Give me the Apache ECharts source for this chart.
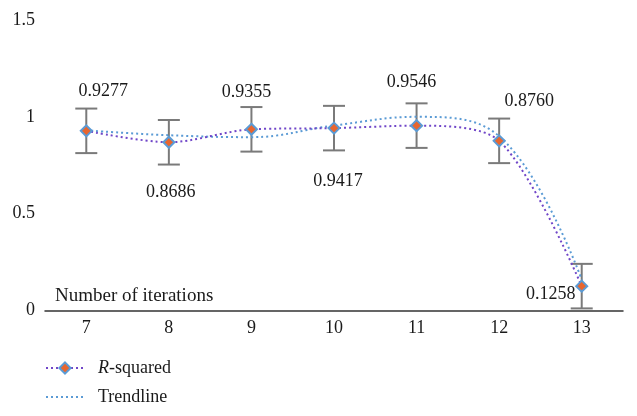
<!DOCTYPE html>
<html><head><meta charset="utf-8">
<script src="https://cdn.jsdelivr.net/npm/echarts@6/dist/echarts.min.js"></script>
<style>html,body{margin:0;padding:0;background:#fff}#c{width:637px;height:416px}</style>
</head><body><div id="c"></div>
<script>
// Data
const categories = ['7', '8', '9', '10', '11', '12', '13'];
const rSquared = [0.9277, 0.8686, 0.9355, 0.9417, 0.9546, 0.8760, 0.1258];
const errorMargin = [0.115, 0.115, 0.115, 0.115, 0.115, 0.115, 0.115];
const trendline = [0.93, 0.905, 0.895, 0.955, 1.0, 0.90, 0.16];
const yTicks = ['0', '0.5', '1', '1.5'];

// Label placement (layout only)
const labelOffsets = [[17, -40], [2, 50], [-5, -37], [4, 53], [-5, -43], [30, -40], [-31, 8]];

const FONT = '"Liberation Serif", "DejaVu Serif", serif';
const chart = echarts.init(document.getElementById('c'), null, {renderer: 'canvas'});

const errData = categories.map((c, i) => [i, rSquared[i] - errorMargin[i], rSquared[i] + errorMargin[i]]);
const rData = rSquared.map((v, i) => ({
  value: v,
  label: {show: true, position: 'inside', offset: labelOffsets[i], formatter: v.toFixed(4)}
}));

chart.setOption({
  animation: false,
  backgroundColor: '#fff',
  grid: {left: 45, right: 14, top: 20, bottom: 105.5, containLabel: false},
  xAxis: {
    type: 'category',
    data: categories,
    boundaryGap: true,
    axisLine: {show: true, lineStyle: {color: '#333', width: 1.5}},
    axisTick: {show: false},
    axisLabel: {color: '#1a1a1a', fontFamily: FONT, fontSize: 18, margin: 9},
    splitLine: {show: false}
  },
  yAxis: {
    type: 'value',
    min: 0, max: 1.5, interval: 0.5,
    axisLine: {show: false},
    axisTick: {show: false},
    splitLine: {show: false},
    axisLabel: {
      color: '#1a1a1a', fontFamily: FONT, fontSize: 18, margin: 10,
      formatter: (v) => yTicks[Math.round(v / 0.5)]
    }
  },
  legend: {
    orient: 'vertical',
    left: 45, top: 359, height: 56,
    padding: 0,
    itemWidth: 38, itemHeight: 14, itemGap: 11,
    data: [{name: 'R-squared'}, {name: 'Trendline', itemStyle: {opacity: 0}}],
    formatter: (name) => name === 'R-squared' ? '{i|R}{n|-squared}' : '{n|Trendline}',
    textStyle: {
      padding: [0, 0, 0, 9],
      rich: {
        i: {fontFamily: FONT, fontSize: 18, fontStyle: 'italic', color: '#1a1a1a', lineHeight: 18},
        n: {fontFamily: FONT, fontSize: 18, color: '#1a1a1a', lineHeight: 18}
      }
    }
  },
  graphic: [{
    type: 'text', left: 55, top: 287,
    style: {text: 'Number of iterations', font: '19px ' + FONT, fill: '#1a1a1a'}
  }],
  series: [
    {
      name: 'errors',
      type: 'custom',
      z: 1,
      data: errData,
      renderItem: (params, api) => {
        const x = api.value(0);
        const p1 = api.coord([x, api.value(2)]);
        const p2 = api.coord([x, api.value(1)]);
        const w = 11;
        const style = {stroke: '#7a7a7a', lineWidth: 2};
        return {type: 'group', children: [
          {type: 'line', shape: {x1: p1[0], y1: p1[1], x2: p2[0], y2: p2[1]}, style},
          {type: 'line', shape: {x1: p1[0] - w, y1: p1[1], x2: p1[0] + w, y2: p1[1]}, style},
          {type: 'line', shape: {x1: p2[0] - w, y1: p2[1], x2: p2[0] + w, y2: p2[1]}, style}
        ]};
      }
    },
    {
      name: 'Trendline',
      type: 'line',
      z: 3,
      data: trendline,
      smooth: 0.4,
      symbol: 'none',
      lineStyle: {color: '#5b9bd5', width: 2, type: [2, 3]},
      itemStyle: {color: '#5b9bd5'}
    },
    {
      name: 'R-squared',
      type: 'line',
      z: 4,
      data: rData,
      smooth: 0.3,
      symbol: 'diamond',
      symbolSize: 11,
      lineStyle: {color: '#7046c8', width: 2, type: [2, 3]},
      itemStyle: {color: '#e8662f', borderColor: '#5b9bd5', borderWidth: 2},
      label: {color: '#1a1a1a', fontFamily: FONT, fontSize: 18}
    }
  ]
});
</script>
</body></html>
